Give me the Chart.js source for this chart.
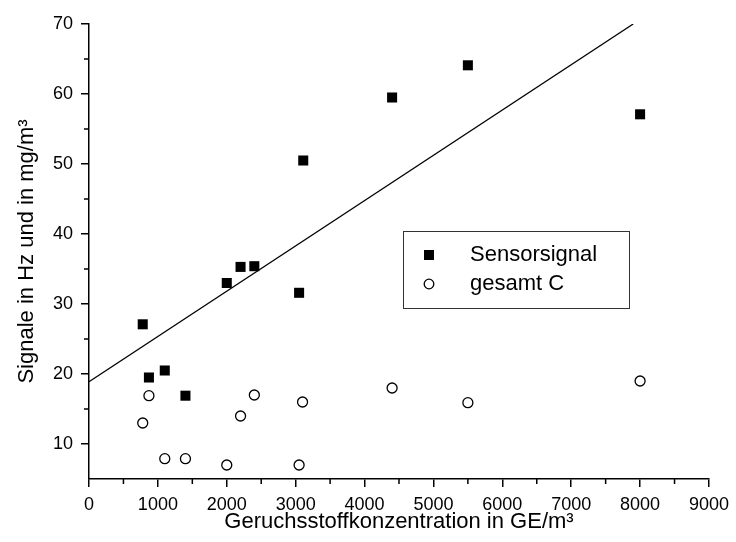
<!DOCTYPE html>
<html>
<head>
<meta charset="utf-8">
<script src="https://cdn.jsdelivr.net/npm/chart.js@4.4.1/dist/chart.umd.min.js"></script>
<style>
  body { margin: 0; background: #fff; }
  #wrap { width: 736px; height: 542px; }
</style>
</head>
<body>
<div id="wrap"><canvas id="chart"></canvas></div>
<script>
// Geruchsstoffkonzentration (GE/m³)
const sensorX = [780, 870, 1100, 1400, 2000, 2200, 2400, 3050, 3110, 4400, 5500, 8000];
const sensorY = [27.1, 19.5, 20.5, 16.9, 33.0, 35.3, 35.4, 31.6, 50.5, 59.5, 64.1, 57.1];
const gesamtX = [780, 870, 1100, 1400, 2000, 2200, 2400, 3050, 3100, 4400, 5500, 8000];
const gesamtY = [13.0, 16.9, 7.9, 7.9, 7.0, 14.0, 17.0, 7.0, 16.0, 18.0, 15.9, 19.0];
// regression line endpoints
const fitX = [0, 7900];
const fitY = [18.9, 70];
const xTicks = [0, 1000, 2000, 3000, 4000, 5000, 6000, 7000, 8000, 9000];
const yTicks = [10, 20, 30, 40, 50, 60, 70];
const xMinor = [500, 1500, 2500, 3500, 4500, 5500, 6500, 7500, 8500];
const yMinor = [15, 25, 35, 45, 55, 65];

const toPts = (xs, ys) => xs.map((x, i) => ({ x: x, y: ys[i] }));
const FONT = '"Liberation Sans", Arial, sans-serif';

const minorTicks = {
  id: 'minorTicks',
  afterDraw(chart) {
    const c = chart.ctx;
    const xs = chart.scales.x, ys = chart.scales.y;
    c.save();
    c.strokeStyle = '#000';
    c.lineWidth = 1.5;
    c.beginPath();
    xMinor.forEach(v => {
      const px = xs.getPixelForValue(v);
      c.moveTo(px, xs.top);
      c.lineTo(px, xs.top + 5);
    });
    yMinor.forEach(v => {
      const py = ys.getPixelForValue(v);
      c.moveTo(ys.right, py);
      c.lineTo(ys.right - 5, py);
    });
    c.stroke();
    c.restore();
  }
};

const boxLegend = {
  id: 'boxLegend',
  afterDraw(chart) {
    const c = chart.ctx;
    c.save();
    c.strokeStyle = '#333';
    c.lineWidth = 1;
    c.strokeRect(403.5, 231.5, 226, 77);
    c.fillStyle = '#000';
    c.fillRect(424, 250, 10, 10);
    c.beginPath();
    c.arc(429, 284, 4.8, 0, Math.PI * 2);
    c.lineWidth = 1.3;
    c.strokeStyle = '#000';
    c.stroke();
    c.font = '22px ' + FONT;
    c.textBaseline = 'middle';
    c.fillText('Sensorsignal', 470, 255);
    c.fillText('gesamt C', 470, 284);
    c.restore();
  }
};

new Chart(document.getElementById('chart'), {
  type: 'scatter',
  data: {
    datasets: [
      {
        label: 'Sensorsignal',
        data: toPts(sensorX, sensorY),
        pointStyle: 'rect',
        pointRadius: 7.1,
        backgroundColor: '#000',
        borderColor: '#000',
        borderWidth: 0
      },
      {
        label: 'gesamt C',
        data: toPts(gesamtX, gesamtY),
        pointStyle: 'circle',
        pointRadius: 5,
        backgroundColor: '#fff',
        borderColor: '#000',
        borderWidth: 1.3
      },
      {
        type: 'line',
        label: 'fit',
        data: toPts(fitX, fitY),
        borderColor: '#000',
        borderWidth: 1.3,
        pointRadius: 0,
        fill: false
      }
    ]
  },
  options: {
    responsive: true,
    maintainAspectRatio: false,
    animation: false,
    layout: { padding: { top: 24, right: 21, left: 0, bottom: 0 } },
    plugins: {
      legend: { display: false },
      tooltip: { enabled: false }
    },
    scales: {
      x: {
        type: 'linear',
        min: 0,
        max: 9000,
        afterBuildTicks: s => { s.ticks = xTicks.map(v => ({ value: v })); },
        afterFit: s => { s.height = 63; },
        border: { display: true, color: '#000', width: 1.5 },
        grid: { drawOnChartArea: false, color: '#000', lineWidth: 1.5, tickLength: 8 },
        ticks: {
          color: '#000', padding: 7, maxRotation: 0,
          font: { family: FONT, size: 18 },
          callback: v => String(v)
        },
        title: {
          display: true,
          text: 'Geruchsstoffkonzentration in GE/m³',
          color: '#000',
          font: { family: FONT, size: 22 },
          padding: { top: 0, bottom: 7 }
        }
      },
      y: {
        type: 'linear',
        min: 5,
        max: 70,
        afterBuildTicks: s => { s.ticks = yTicks.map(v => ({ value: v })); },
        afterFit: s => { s.width = 89; },
        border: { display: true, color: '#000', width: 1.5 },
        grid: { drawOnChartArea: false, color: '#000', lineWidth: 1.5, tickLength: 8 },
        ticks: { color: '#000', padding: 8, font: { family: FONT, size: 18 } },
        title: {
          display: true,
          text: 'Signale in Hz und in mg/m³',
          color: '#000',
          font: { family: FONT, size: 22 },
          padding: { top: 14, bottom: 0 }
        }
      }
    }
  },
  plugins: [minorTicks, boxLegend]
});
</script>
</body>
</html>
